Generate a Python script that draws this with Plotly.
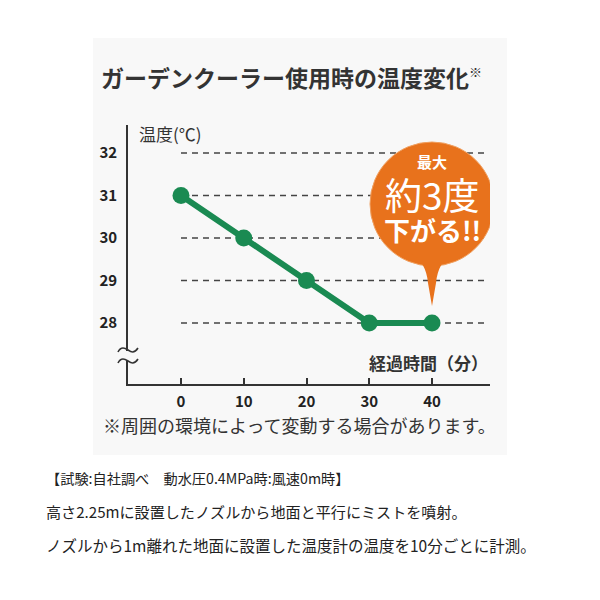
import plotly.graph_objects as go

# ---- data ----
minutes = [0, 10, 20, 30, 40]
temps = [31, 30, 29, 28, 28]
y_ticks = [28, 29, 30, 31, 32]
x_ticks = [0, 10, 20, 30, 40]

title_text = "ガーデンクーラー使用時の温度変化"
y_label = "温度(℃)"
x_label = "経過時間（分）"
note_text = "※周囲の環境によって変動する場合があります。"
callout_lines = ["最大", "約3度", "下がる!!"]
footer_lines = [
    "【試験:自社調べ　動水圧0.4MPa時:風速0m時】",
    "高さ2.25mに設置したノズルから地面と平行にミストを噴射。",
    "ノズルから1m離れた地面に設置した温度計の温度を10分ごとに計測。",
]

FONT = "Noto Sans CJK JP"
GREEN = "#1a8a52"
ORANGE = "#e8721c"
PANEL = "#f8f8f8"
DARK = "#333333"

W, H = 600, 600
L, R, T, B = 128, 110, 125, 216
PW, PH = W - L - R, H - T - B


def px(x):
    return (x - L) / PW


def py(y):
    return (H - B - y) / PH


fig = go.Figure()

fig.add_trace(go.Scatter(
    x=minutes, y=temps, mode="lines+markers",
    line=dict(color=GREEN, width=6),
    marker=dict(color=GREEN, size=17),
    hoverinfo="skip", showlegend=False,
))

shapes = []
# background panel
shapes.append(dict(type="rect", xref="paper", yref="paper", layer="below",
                   x0=px(93), x1=px(507), y0=py(455), y1=py(38),
                   fillcolor=PANEL, line=dict(width=0)))
# dashed grid lines
x_end = max(x_ticks) + 8.9
for v in y_ticks:
    shapes.append(dict(type="line", xref="x", yref="y", layer="below",
                       x0=min(x_ticks), x1=x_end, y0=v, y1=v,
                       line=dict(color="#444444", width=1.6, dash="6px,5px")))
# axis break: cover the axis line and draw squiggles
shapes.append(dict(type="rect", xref="paper", yref="paper",
                   x0=px(124), x1=px(132), y0=py(361), y1=py(351),
                   fillcolor=PANEL, line=dict(width=0)))
for yy in (350, 361):
    path = "M {},{} C {},{} {},{} {},{} S {},{} {},{}".format(
        px(118), py(yy + 2),
        px(121), py(yy - 4), px(125), py(yy - 2), px(128), py(yy),
        px(134), py(yy + 4), px(138), py(yy - 2))
    shapes.append(dict(type="path", xref="paper", yref="paper", path=path,
                       line=dict(color=DARK, width=1.6)))

# callout bubble anchored on last data point
ax, ay = minutes[-1], temps[-1]
shapes.append(dict(type="circle", xref="x", yref="y",
                   xsizemode="pixel", ysizemode="pixel",
                   xanchor=ax, yanchor=ay,
                   x0=-62, x1=62, y0=57, y1=181,
                   fillcolor=ORANGE, line=dict(color="#f0a060", width=1)))
shapes.append(dict(type="path", xref="x", yref="y",
                   xsizemode="pixel", ysizemode="pixel",
                   xanchor=ax, yanchor=ay,
                   path="M -22,70 Q -6,62 -4,40 L 0,17 L 4,40 Q 6,62 22,70 Z",
                   fillcolor=ORANGE, line=dict(width=0)))

annotations = []
annotations.append(dict(xref="paper", yref="paper", x=px(99), y=py(77),
                        xanchor="left", yanchor="middle", showarrow=False,
                        text=title_text + "<sup><span style='font-size:13px'>※</span></sup>",
                        font=dict(family=FONT, size=23, color=DARK, weight="bold")))
annotations.append(dict(xref="paper", yref="paper", x=px(137), y=py(133),
                        xanchor="left", yanchor="middle", showarrow=False,
                        text=y_label, font=dict(family=FONT, size=17, color=DARK)))
annotations.append(dict(xref="paper", yref="paper", x=px(490), y=py(362),
                        xanchor="right", yanchor="middle", showarrow=False,
                        text=x_label, font=dict(family=FONT, size=17, color=DARK,
                                                weight="bold")))
annotations.append(dict(xref="paper", yref="paper", x=px(101), y=py(425),
                        xanchor="left", yanchor="middle", showarrow=False,
                        text=note_text, font=dict(family=FONT, size=18, color=DARK)))
for line, yy, fs in zip(footer_lines, (478, 511, 545), (14.2, 15.1, 15.5)):
    annotations.append(dict(xref="paper", yref="paper", x=px(44), y=py(yy),
                            xanchor="left", yanchor="middle", showarrow=False,
                            text=line, font=dict(family=FONT, size=fs, color="#222222")))
# callout text
for txt, dy, size, wt in zip(callout_lines, (162, 129, 94), (15, 37, 26),
                             ("bold", "normal", "bold")):
    annotations.append(dict(xref="x", yref="y", x=ax, y=ay, yshift=dy,
                            xanchor="center", yanchor="middle", showarrow=False,
                            text=txt,
                            font=dict(family=FONT, size=size, color="white", weight=wt)))

x0 = min(x_ticks) - (181 - L) / 6.275
x1 = min(x_ticks) + (490 - 181) / 6.275
y0 = 28 - (H - B - 323) / 42.5
y1 = 28 + (323 - T) / 42.5

fig.update_layout(
    width=W, height=H,
    margin=dict(l=L, r=R, t=T, b=B, pad=0),
    paper_bgcolor="white",
    plot_bgcolor="rgba(0,0,0,0)",
    shapes=shapes, annotations=annotations,
    xaxis=dict(range=[x0, x1], tickvals=x_ticks, ticks="inside", ticklen=6,
               tickwidth=1.5, tickcolor=DARK, showline=True, linecolor=DARK,
               linewidth=1.6, showgrid=False, zeroline=False,
               ticklabelstandoff=3,
               tickfont=dict(family=FONT, size=15, color="#222222", weight="bold"),
               fixedrange=True),
    yaxis=dict(range=[y0, y1], tickvals=y_ticks, ticks="outside", ticklen=6,
               tickcolor="rgba(0,0,0,0)", showline=True, linecolor=DARK,
               linewidth=1.6, showgrid=False, zeroline=False,
               tickfont=dict(family=FONT, size=15, color="#222222", weight="bold"),
               fixedrange=True),
)

fig.write_html("out.html")
